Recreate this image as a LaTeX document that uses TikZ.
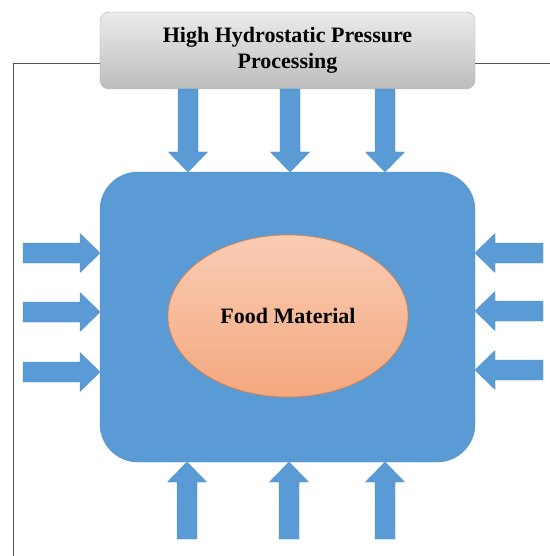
\documentclass[tikz,border=0pt]{standalone}
\usepackage{fontspec}
\setmainfont{Liberation Serif}
\usetikzlibrary{shapes.geometric}
\definecolor{boxblue}{HTML}{5B9BD5}
\definecolor{arrowblue}{HTML}{5B9BD5}
\definecolor{arrowedge}{HTML}{4F8CC9}
\definecolor{graytop}{HTML}{EBEBEB}
\definecolor{graybot}{HTML}{BDBDBD}
\definecolor{grayedge}{HTML}{B0B0B0}
\definecolor{foodtop}{HTML}{F9CCB4}
\definecolor{foodbot}{HTML}{F4A87E}
\definecolor{foodedge}{HTML}{ED7D31}
\definecolor{frameline}{HTML}{555555}
\tikzset{
  titlebox/.style={rectangle, rounded corners=9pt, top color=graytop, bottom color=graybot,
    draw=grayedge, line width=0.4pt, minimum width=375pt, minimum height=77pt, inner sep=0pt,
    align=center, font=\fontsize{22}{26}\selectfont\bfseries},
  chamber/.style={rectangle, rounded corners=38pt, fill=boxblue, draw=boxblue!92!black,
    line width=0.4pt, minimum width=375pt, minimum height=290pt, inner sep=0pt},
  food/.style={ellipse, top color=foodtop, bottom color=foodbot, draw=foodedge, line width=0.6pt,
    minimum width=240pt, minimum height=162pt, inner sep=0pt,
    font=\fontsize{22}{26}\selectfont\bfseries},
  frame/.style={draw=frameline, line width=1pt},
  pics/blockarrow/.style={code={
    \fill[arrowblue, draw=arrowedge, line width=0.3pt]
      (0,-10) -- (#1-20,-10) -- (#1-20,-19.5) -- (#1,0) -- (#1-20,19.5) -- (#1-20,10) -- (0,10) -- cycle;
  }}
}
\begin{document}
\begin{tikzpicture}[x=1pt,y=-1pt]
\useasboundingbox (0,0) rectangle (549,556);
\fill[white] (0,0) rectangle (549,556);

% frame lines
\coordinate (fbl) at (13,557);
\coordinate (fr) at (550,64);
\node[titlebox] (title) at (287.5,50.5) {High Hydrostatic Pressure\\Processing};
\draw[frame] (fbl) |- (title.west |- fr);
\draw[frame] (title.east |- fr) -- (fr);

% chamber and food
\node[chamber] (chamber) at (287.5,317) {};
\node[food] (food) at (288,316) {Food Material};

% top arrows (pointing down)
\pic[rotate=-90] at (188,89) {blockarrow=83};
\pic[rotate=-90] at (290,89) {blockarrow=83};
\pic[rotate=-90] at (385,89) {blockarrow=83};

% bottom arrows (pointing up)
\pic[rotate=90] at (187,539) {blockarrow=77};
\pic[rotate=90] at (289,539) {blockarrow=77};
\pic[rotate=90] at (385,539) {blockarrow=77};

% left arrows (pointing right)
\pic at (23,253) {blockarrow=77};
\pic at (23,312) {blockarrow=77};
\pic at (23,372) {blockarrow=77};

% right arrows (pointing left)
\pic[rotate=180] at (543,253) {blockarrow=68};
\pic[rotate=180] at (543,311) {blockarrow=68};
\pic[rotate=180] at (543,370) {blockarrow=68};
\end{tikzpicture}
\end{document}
